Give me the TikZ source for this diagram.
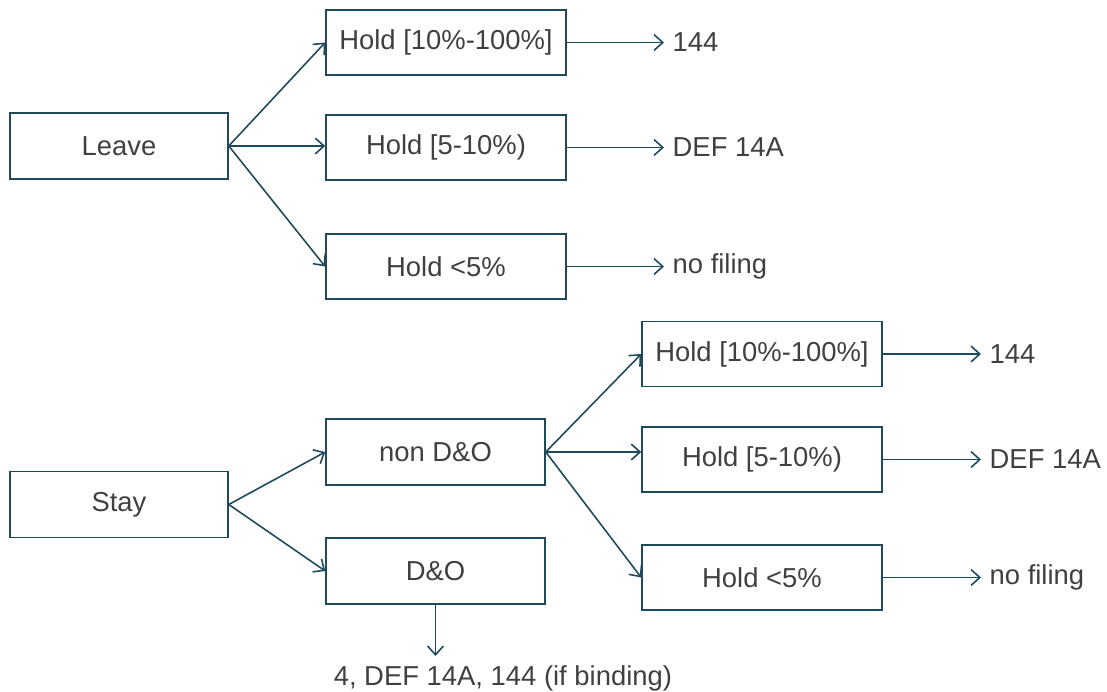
\documentclass[tikz,border=0pt]{standalone}
\usepackage{fontspec}
\setmainfont{Liberation Sans}
\usetikzlibrary{arrows.meta}
\definecolor{linecol}{HTML}{1F4A5A}
\definecolor{textcol}{HTML}{404040}

\begin{document}
\begin{tikzpicture}[
                x = 0.02cm, y = -0.02cm, % pixel grid
                > = {Straight Barb[length=5pt,width=9pt]}, % arrow head style
                line width = 0.9pt, draw = linecol,
                font = \fontsize{15.6}{18}\selectfont, text = textcol
            ]

            \tikzset{box/.style = {draw = linecol, rectangle, inner sep = 2pt,
            minimum width = 4.8cm, minimum height = 1.3cm},
            startbox/.style = {box, minimum width = 4.36cm, minimum height = 1.32cm},
            midbox/.style = {box, minimum width = 4.38cm, minimum height = 1.32cm},
            result/.style = {anchor = west, inner xsep = 4.5pt, inner ysep = 0pt},
            link/.style = {->, draw = linecol}}

            \useasboundingbox (0,0) rectangle (1107,692);

            % upper tree
            \node (leave) [startbox] at (119,146) {Leave};
            \node (lhigh) [box] at (446,42.5) {Hold [10\%-100\%]};
            \node (lmid) [box] at (446,147.5) {Hold [5-10\%)};
            \node (llow) [box] at (446,266.5) {Hold <5\%};
            \node (rhigh) [result] at (664,42.5) {144};
            \node (rmid) [result] at (664,147.5) {DEF 14A};
            \node (rlow) [result] at (664,266.5) {no filing};

            % lower tree
            \node (stay) [startbox] at (119,504.5) {Stay};
            \node (nondo) [midbox] at (435.5,452) {non D\&O};
            \node (do) [midbox] at (435.5,571) {D\&O};
            \node (shigh) [box] at (762,354) {Hold [10\%-100\%]};
            \node (smid) [box] at (762,459.5) {Hold [5-10\%)};
            \node (slow) [box] at (762,577.5) {Hold <5\%};
            \node (thigh) [result] at (981,354) {144};
            \node (tmid) [result] at (981,459.5) {DEF 14A};
            \node (tlow) [result] at (981,577.5) {no filing};
            \node (dores) [result, inner xsep = 0pt] at (333,678) {4, DEF 14A, 144 (if binding)};
            \coordinate (doend) at (435.5,656);

            \draw[link] (leave.east) -- (lhigh.west);
            \draw[link] (leave.east) -- (lmid.west |- leave.east);
            \draw[link] (leave.east) -- (llow.west);
            \draw[link] (lhigh.east) -- (rhigh.west);
            \draw[link] (lmid.east) -- (rmid.west);
            \draw[link] (llow.east) -- (rlow.west);

            \draw[link] (stay.east) -- (nondo.west);
            \draw[link] (stay.east) -- (do.west);
            \draw[link] (nondo.east) -- (shigh.west);
            \draw[link] (nondo.east) -- (smid.west |- nondo.east);
            \draw[link] (nondo.east) -- (slow.west);
            \draw[link] (shigh.east) -- (thigh.west);
            \draw[link] (smid.east) -- (tmid.west);
            \draw[link] (slow.east) -- (tlow.west);
            \draw[link] (do.south) -- (doend);

        \end{tikzpicture}
\end{document}
